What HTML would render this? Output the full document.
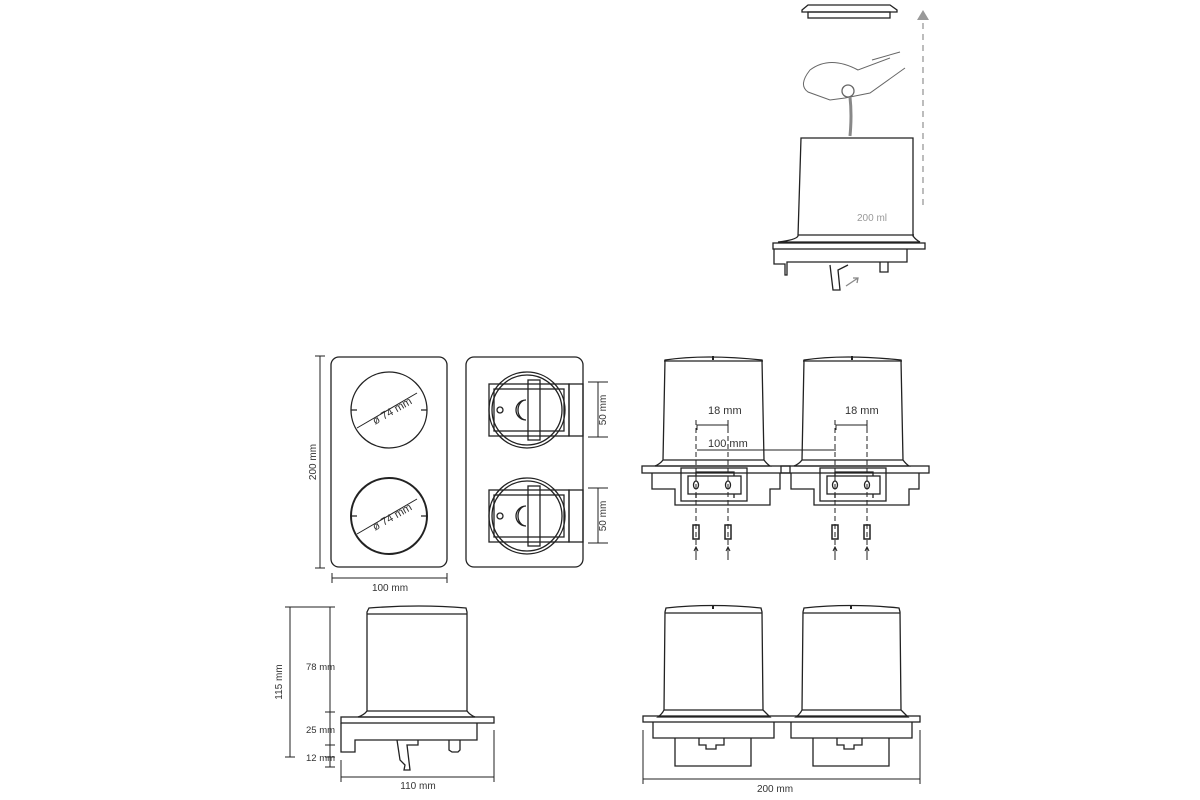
<!DOCTYPE html>
<html><head><meta charset="utf-8"><style>
html,body{margin:0;padding:0;background:#fff;width:1200px;height:800px;overflow:hidden}
svg{display:block}
text{font-family:"Liberation Sans",sans-serif;font-size:10px;fill:#333}
</style></head><body>
<svg width="1200" height="800" viewBox="0 0 1200 800" fill="none" stroke="#222" stroke-width="1.3">
<!-- TOP RIGHT: refill -->
<path d="M802 10 L808 5 L890 5 L897 10 L897 12 L802 12 Z"/>
<rect x="808" y="12" width="82" height="6"/>
<line x1="923" y1="205" x2="923" y2="20" stroke="#999" stroke-dasharray="6 5"/>
<path d="M917 20 L923 10 L929 20 Z" fill="#999" stroke="none"/>
<path d="M890 58 L858 70 Q830 55 810 70 Q798 85 808 92 L830 100 L845 98 L870 93 L905 68 M900 52 L872 60" stroke="#666" stroke-width="1"/>
<circle cx="848" cy="91" r="6" stroke="#666"/>
<path d="M850 97 Q852 115 850 136" stroke="#888" stroke-width="3"/>
<path d="M801 138 L913 138 L913 236 Q916 240 920 242 L778 242 Q796 240 798 236 Z"/>
<line x1="798" y1="235" x2="914" y2="235"/>
<text x="857" y="221" style="fill:#999;font-size:10px" stroke="none">200 ml</text>
<rect x="773" y="243" width="152" height="6"/>
<path d="M774 249 L774 264 L785 264 L785 275 L787 275 L787 262 L907 262 L907 249"/>
<path d="M830 265 L833 290 L840 290 L838 270 L848 265"/>
<path d="M880 262 L880 272 L888 272 L888 262"/>
<path d="M846 286 L858 278 M853 278 L858 278 L857 283" stroke="#888"/>
<!-- PLAN VIEW LEFT -->
<rect x="331" y="357" width="116" height="210" rx="8"/>
<circle cx="389" cy="410" r="38"/>
<circle cx="389" cy="516" r="38" stroke-width="2"/>
<path d="M351 410 h6 M421 410 h6 M351 516 h6 M421 516 h6"/>
<line x1="357" y1="428" x2="417" y2="393" stroke-width="1"/>
<line x1="357" y1="534" x2="417" y2="499" stroke-width="1"/>
<text x="369" y="418" transform="rotate(-30 385 410)" style="font-size:11px" stroke="none">ø 74 mm</text>
<text x="369" y="524" transform="rotate(-30 385 516)" style="font-size:11px" stroke="none">ø 74 mm</text>
<line x1="320" y1="356" x2="320" y2="568" stroke-width="1"/>
<path d="M315 356 h10 M315 568 h10" stroke-width="1"/>
<text x="316" y="462" transform="rotate(-90 316 462)" text-anchor="middle" stroke="none">200 mm</text>
<line x1="332" y1="578" x2="447" y2="578" stroke-width="1"/>
<path d="M332 573 v10 M447 573 v10" stroke-width="1"/>
<text x="390" y="591" text-anchor="middle" stroke="none">100 mm</text>
<!-- PLAN VIEW RIGHT -->
<rect x="466" y="357" width="117" height="210" rx="8"/>
<g id="u1">
<circle cx="527" cy="410" r="38"/>
<circle cx="527" cy="410" r="35"/>
<rect x="489" y="384" width="80" height="52"/>
<rect x="494" y="389" width="70" height="42"/>
<rect x="528" y="380" width="12" height="60"/>
<rect x="569" y="384" width="14" height="52"/>
<circle cx="500" cy="410" r="3"/>
<path d="M526 400 A10 10 0 1 0 526 420 A8 10 0 0 1 526 400 Z"/>
</g>
<use href="#u1" y="106"/>
<line x1="598" y1="382" x2="598" y2="437" stroke-width="1"/>
<path d="M588 382 h20 M588 437 h20 M588 488 h20 M588 543 h20" stroke-width="1"/>
<line x1="598" y1="488" x2="598" y2="543" stroke-width="1"/>
<text x="606" y="410" transform="rotate(-90 606 410)" text-anchor="middle" stroke="none">50 mm</text>
<text x="606" y="516" transform="rotate(-90 606 516)" text-anchor="middle" stroke="none">50 mm</text>
<!-- FRONT VIEW WITH SCREWS -->
<g id="f1">
<path d="M665 360 Q705 354 762 360 L764 460 Q767 464 770 466 L655 466 Q660 464 663 460 Z"/>
<line x1="664" y1="361" x2="763" y2="361"/>
<line x1="663" y1="460" x2="764" y2="460"/>
<line x1="713" y1="356" x2="713" y2="360" stroke-width="2"/>
<rect x="642" y="466" width="148" height="7"/>
<path d="M652 473 V489 H675 V505 H770 V489 H780 V473"/>
<rect x="681" y="468" width="66" height="33"/>
<rect x="688" y="476" width="53" height="18"/>
<path d="M696 476 v-4 h38 v4 M696 494 v4 M734 494 v4"/>
<line x1="696" y1="420" x2="696" y2="545" stroke-dasharray="5 3" stroke-width="1"/>
<line x1="728" y1="420" x2="728" y2="545" stroke-dasharray="5 3" stroke-width="1"/>
<path d="M697 430 v-5 h31 v5" stroke-width="1"/>
<ellipse cx="696" cy="485" rx="2.5" ry="4"/>
<ellipse cx="728" cy="485" rx="2.5" ry="4"/>
<rect x="693" y="525" width="6" height="14" stroke-width="1.5"/>
<rect x="725" y="525" width="6" height="14" stroke-width="1.5"/>
<path d="M696 548 v12 M694 551 l2 -4 l2 4 M728 548 v12 M726 551 l2 -4 l2 4" stroke-width="1"/>
</g>
<use href="#f1" x="139"/>
<line x1="697" y1="450" x2="836" y2="450" stroke-width="1"/>
<text x="708" y="414" stroke="none" style="font-size:11px">18 mm</text>
<text x="845" y="414" stroke="none" style="font-size:11px">18 mm</text>
<text x="708" y="447" stroke="none" style="font-size:11px">100 mm</text>
<!-- SIDE VIEW BOTTOM LEFT -->
<path d="M369 608 Q420 604 466 608 L467 612 L467 711 Q470 715 475 717 L358 717 Q364 715 367 711 L367 612 Z"/>
<line x1="367" y1="614" x2="467" y2="614"/>
<line x1="367" y1="711" x2="467" y2="711"/>
<rect x="341" y="717" width="153" height="6"/>
<path d="M341 723 V752 H355 V740 H477 V723"/>
<path d="M397 740 L400 760 L405 765 L404 770 L410 770 L407 745 L418 745 L418 740"/>
<path d="M449 740 V750 L452 752 H458 L460 750 V740"/>
<line x1="290" y1="607" x2="290" y2="757" stroke-width="1"/>
<line x1="330" y1="607" x2="330" y2="767" stroke-width="1"/>
<path d="M285 607 h50 M285 757 h10 M325 712 h10 M325 745 h10 M325 767 h10 M325 757 h10" stroke-width="1"/>
<text x="282" y="682" transform="rotate(-90 282 682)" text-anchor="middle" stroke="none">115 mm</text>
<text x="306" y="670" stroke="none" style="font-size:9.5px">78 mm</text>
<text x="306" y="733" stroke="none" style="font-size:9.5px">25 mm</text>
<text x="306" y="761" stroke="none" style="font-size:9.5px">12 mm</text>
<line x1="341" y1="777" x2="494" y2="777" stroke-width="1"/>
<path d="M341 760 v22 M494 730 v52" stroke-width="1"/>
<text x="418" y="789" text-anchor="middle" stroke="none">110 mm</text>
<!-- FRONT VIEW BOTTOM RIGHT -->
<g id="b1">
<path d="M666 608 Q712 603 761 608 L762 612 L763 710 Q767 714 770 717 L658 717 Q662 714 664 710 L665 612 Z"/>
<line x1="665" y1="613" x2="762" y2="613"/>
<line x1="664" y1="710" x2="763" y2="710"/>
<line x1="713" y1="605" x2="713" y2="609" stroke-width="2"/>
<path d="M653 722 V738 H774 V722"/>
<path d="M675 738 V766 H751 V738"/>
<path d="M699 738 v7 h7 v4 h10 v-4 h8 v-7"/>
</g>
<use href="#b1" x="138"/>
<rect x="643" y="716" width="277" height="6"/>
<line x1="643" y1="779" x2="920" y2="779" stroke-width="1"/>
<path d="M643 730 v54 M920 730 v54" stroke-width="1"/>
<text x="775" y="792" text-anchor="middle" stroke="none">200 mm</text>
</svg>
</body></html>
